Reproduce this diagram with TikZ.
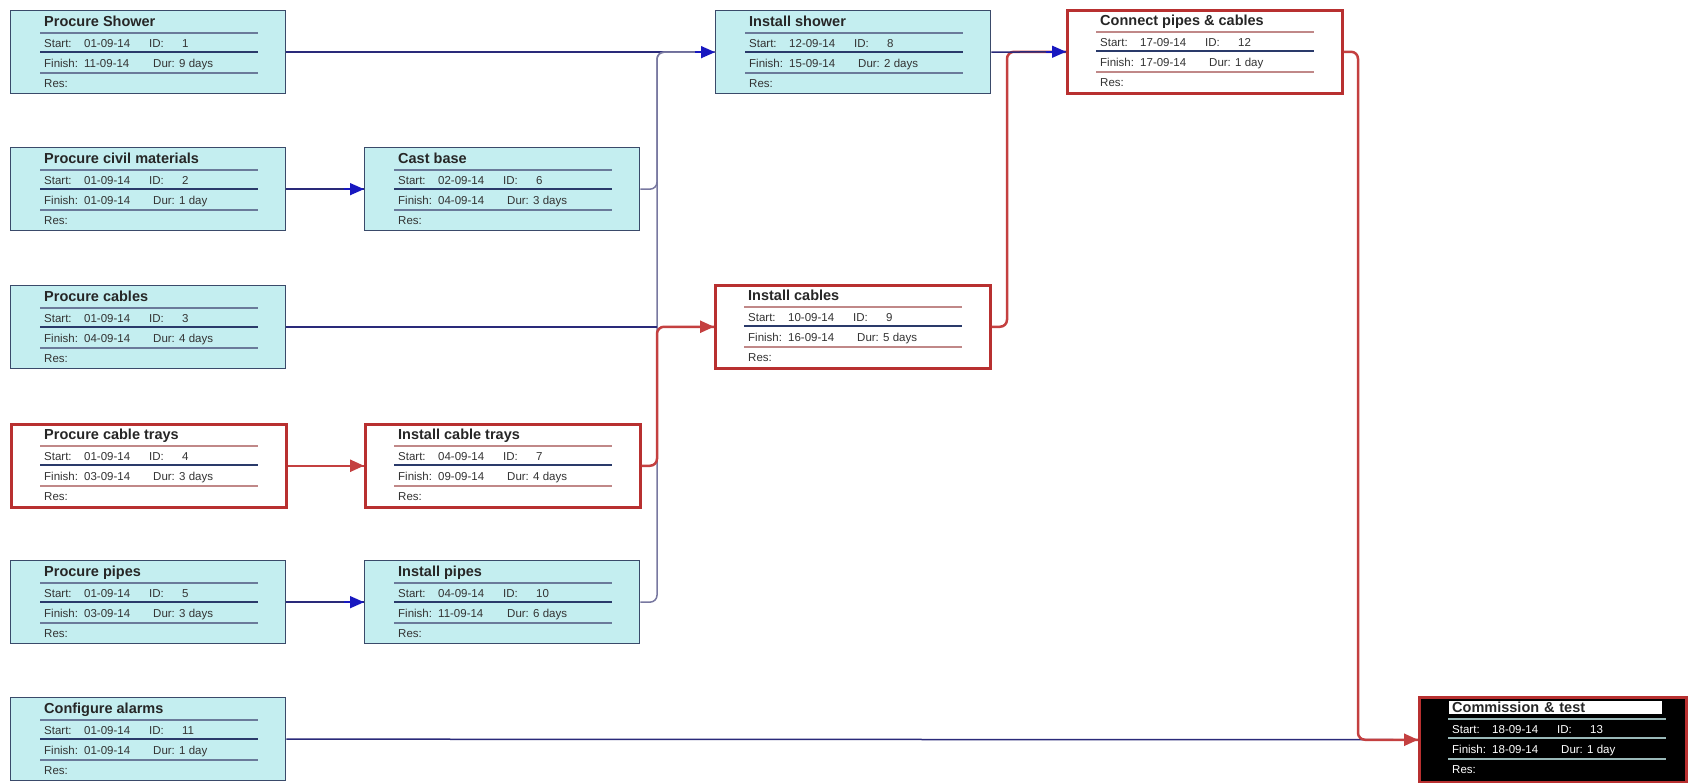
\documentclass[tikz,border=0pt]{standalone}
\usepackage{fontspec}
\setmainfont{Liberation Sans}
\usetikzlibrary{arrows.meta,calc}
\definecolor{cyanfill}{HTML}{C4EEF0}
\definecolor{nborder}{HTML}{3A4A6A}
\definecolor{nline}{HTML}{2A3A6A}
\definecolor{nline2}{HTML}{6A7A9A}
\definecolor{redb}{HTML}{B83030}
\definecolor{redl}{HTML}{C44040}
\definecolor{redl2}{HTML}{C08888}
\definecolor{navy}{HTML}{2A2A7A}
\definecolor{arrblue}{HTML}{1818C0}
\definecolor{vgray}{HTML}{7878A0}
\definecolor{fsep}{HTML}{9AB8B8}
\tikzset{
  nbox/.style={draw=nborder, line width=1.3pt, fill=cyanfill, minimum width=275pt, minimum height=83pt, inner sep=0pt},
  cbox/.style={draw=redb, line width=2.5pt, fill=white, minimum width=275pt, minimum height=83pt, inner sep=0pt},
  fbox/.style={draw=redb, line width=2.5pt, fill=black, minimum width=267pt, minimum height=85pt, inner sep=0pt},
  nsep/.style={draw=nline2, line width=1.2pt},
  nsepm/.style={draw=nline, line width=1.3pt},
  csep/.style={draw=redl2, line width=1.2pt},
  csepm/.style={draw=nline, line width=1.3pt},
  fsep/.style={draw=fsep, line width=1.2pt},
  fsepm/.style={draw=fsep, line width=1.3pt},
  ntxt/.style={text=black!80, font=\fontsize{11.5}{13}\selectfont, inner sep=0pt, anchor=base west},
  ctxt/.style={ntxt},
  ftxt/.style={ntxt, text=white},
  nttl/.style={text=black!85, font=\fontsize{14.5}{16}\selectfont\bfseries, inner sep=0pt, anchor=base west},
  cttl/.style={nttl},
  fttl/.style={nttl, fill=white, inner xsep=3pt, inner ysep=1.5pt, text width=207pt, xshift=-3pt},
  bl/.style={draw=navy, line width=1.5pt},
  rl/.style={draw=redl, line width=2.5pt},
  vl/.style={draw=vgray, line width=1.5pt},
  barr/.style={-{Triangle[length=14pt,width=12pt]}, arrblue},
  rarr/.style={-{Triangle[length=14pt,width=12pt]}, redl},
}
% #1 name, #2 x, #3 y, #4 kind (n/c/f), #5 title, #6 start, #7 id, #8 finish, #9 dur
\newcommand\taskbox[9]{%
  \node[#4box, anchor=north west] (#1) at (#2,#3) {};
  \draw[#4sep] ($(#1.north west)+(30,23)$) -- ++(218,0);
  \draw[#4sepm] ($(#1.north west)+(30,42)$) -- ++(218,0);
  \draw[#4sep] ($(#1.north west)+(30,63)$) -- ++(218,0);
  \node[#4ttl] (#1-t) at ($(#1.north west)+(34,16.5)$) {#5};
  \node[#4txt] (#1-s) at ($(#1.north west)+(34,37.5)$) {Start:};
  \node[#4txt] (#1-sd) at ($(#1.north west)+(74,37.5)$) {#6};
  \node[#4txt] (#1-i) at ($(#1.north west)+(139,37.5)$) {ID:};
  \node[#4txt] (#1-iv) at ($(#1.north west)+(172,37.5)$) {#7};
  \node[#4txt] (#1-f) at ($(#1.north west)+(34,57.5)$) {Finish:};
  \node[#4txt] (#1-fd) at ($(#1.north west)+(74,57.5)$) {#8};
  \node[#4txt] (#1-d) at ($(#1.north west)+(143,57.5)$) {Dur: #9};
  \node[#4txt] (#1-r) at ($(#1.north west)+(34,77.5)$) {Res:};
}
\begin{document}
\begin{tikzpicture}[x=1pt,y=-1pt]
\useasboundingbox (0,0) rectangle (1688,782);
% coordinates for the vertical connector trunks
\coordinate (j1) at (657,0);
\coordinate (j2) at (1007,0);
\coordinate (j3) at (1358,0);

\taskbox{ps}{10}{10}{n}{Procure Shower}{01-09-14}{1}{11-09-14}{9 days}
\taskbox{pcm}{10}{147}{n}{Procure civil materials}{01-09-14}{2}{01-09-14}{1 day}
\taskbox{pc}{10}{285}{n}{Procure cables}{01-09-14}{3}{04-09-14}{4 days}
\taskbox{pct}{10}{423}{c}{Procure cable trays}{01-09-14}{4}{03-09-14}{3 days}
\taskbox{pp}{10}{560}{n}{Procure pipes}{01-09-14}{5}{03-09-14}{3 days}
\taskbox{ca}{10}{697}{n}{Configure alarms}{01-09-14}{11}{01-09-14}{1 day}
\taskbox{cb}{364}{147}{n}{Cast base}{02-09-14}{6}{04-09-14}{3 days}
\taskbox{ict}{364}{423}{c}{Install cable trays}{04-09-14}{7}{09-09-14}{4 days}
\taskbox{ip}{364}{560}{n}{Install pipes}{04-09-14}{10}{11-09-14}{6 days}
\taskbox{is}{715}{10}{n}{Install shower}{12-09-14}{8}{15-09-14}{2 days}
\taskbox{ic}{714}{284}{c}{Install cables}{10-09-14}{9}{16-09-14}{5 days}
\taskbox{cp}{1066}{9}{c}{Connect pipes \& cables}{17-09-14}{12}{17-09-14}{1 day}
\taskbox{ct}{1418}{696}{f}{Commission \& test}{18-09-14}{13}{18-09-14}{1 day}

% connectors
\draw[bl] (ps.east) -- (is.west);
\draw[vl, rounded corners=7pt] (cb.east) -- (cb.east -| j1) -- (is.west -| j1) -- (is.west);
\draw[vl, rounded corners=7pt] (ip.east) -- (ip.east -| j1) -- (is.west -| j1) -- (is.west);
\draw[bl] (pc.east) -- (pc.east -| j1);
\draw[rl, rounded corners=7pt] (ict.east) -- (ict.east -| j1) -- (ic.west -| j1) -- (ic.west);
\draw[bl] (pcm.east) -- (cb.west);
\draw[rl] (pct.east) -- (ict.west);
\draw[bl] (pp.east) -- (ip.west);
\draw[rl, rounded corners=7pt] (ic.east) -- (ic.east -| j2) -- (cp.west -| j2) -- (cp.west);
\draw[bl] (is.east) -- (cp.west);
\draw[bl] (ca.east) -- (ct.west);
\draw[rl, rounded corners=7pt] (cp.east) -- (cp.east -| j3) -- (ct.west -| j3) -- (ct.west);
% arrowheads
\draw[barr, line width=1.5pt] ($(is.west)+(-20,0)$) -- (is.west);
\draw[barr, line width=1.5pt] ($(cb.west)+(-20,0)$) -- (cb.west);
\draw[barr, line width=1.5pt] ($(ip.west)+(-20,0)$) -- (ip.west);
\draw[barr, line width=1.5pt] ($(cp.west)+(-20,0)$) -- (cp.west);
\draw[rarr, line width=2.5pt] ($(ic.west)+(-20,0)$) -- (ic.west);
\draw[rarr, line width=2.5pt] ($(ict.west)+(-20,0)$) -- (ict.west);
\draw[rarr, line width=2.5pt] ($(ct.west)+(-20,0)$) -- (ct.west);
\end{tikzpicture}
\end{document}
